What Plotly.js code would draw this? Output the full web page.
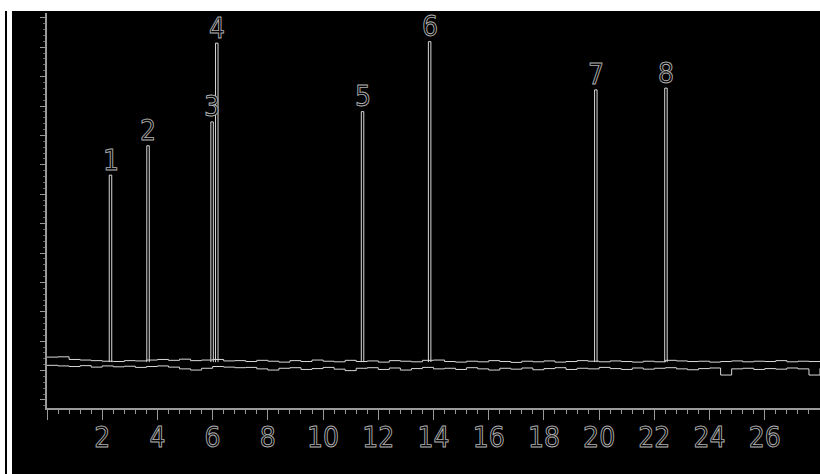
<!DOCTYPE html>
<html>
<head>
<meta charset="utf-8">
<script src="https://cdn.plot.ly/plotly-3.0.1.min.js"></script>
<style>
  html, body { margin: 0; padding: 0; background: #fff; width: 820px; height: 474px; overflow: hidden; }
  #edge { position: absolute; left: 5px; top: 11px; width: 2px; height: 463px; background: #000; }
  #chart { position: absolute; left: 12px; top: 11px; width: 808px; height: 463px; background: #000; }
  #chart .xtick text, #chart .annotation-text {
    fill: #000 !important; stroke: #b0b0b0 !important; stroke-width: 0.9px !important;
  }
</style>
</head>
<body>
<div id="edge"></div>
<div id="chart"></div>
<script>
// Retention time (min) sample points of the detector baseline
const times = [
  0.0, 0.4, 0.8, 1.2, 1.6, 2.0, 2.4, 2.8, 3.2, 3.6,
  4.0, 4.4, 4.8, 5.2, 5.6, 6.0, 6.4, 6.8, 7.2, 7.6,
  8.0, 8.4, 8.8, 9.2, 9.6, 10.0, 10.4, 10.8, 11.2, 11.6,
  12.0, 12.4, 12.8, 13.2, 13.6, 14.0, 14.4, 14.8, 15.2, 15.6,
  16.0, 16.4, 16.8, 17.2, 17.6, 18.0, 18.4, 18.8, 19.2, 19.6,
  20.0, 20.4, 20.8, 21.2, 21.6, 22.0, 22.4, 22.8, 23.2, 23.6,
  24.0, 24.4, 24.8, 25.2, 25.6, 26.0, 26.4, 26.8, 27.2, 27.6,
  28.0
];
// Upper and lower edges of the noisy baseline
const baselineUpper = [
  0.20, 0.21, 0.12, 0.10, 0.08, 0.06, 0.05, 0.08, 0.07, 0.10,
  0.12, 0.09, 0.13, 0.08, 0.10, 0.12, 0.07, 0.08, 0.05, 0.09,
  0.06, 0.03, 0.08, 0.05, 0.10, 0.06, 0.04, 0.09, 0.05, 0.07,
  0.03, 0.08, 0.06, 0.04, 0.09, 0.10, 0.05, 0.03, 0.06, 0.04,
  0.08, 0.05, 0.02, 0.06, 0.04, 0.07, 0.03, 0.05, 0.08, 0.06,
  0.04, 0.07, 0.05, 0.03, 0.06, 0.04, 0.09, 0.07, 0.05, 0.06,
  0.03, 0.05, 0.07, 0.04, 0.06, 0.05, 0.08, 0.04, 0.06, 0.05,
  0.07
];
const baselineLower = [
  -0.08, -0.10, -0.12, -0.09, -0.14, -0.10, -0.13, -0.11, -0.15, -0.12,
  -0.10, -0.14, -0.20, -0.24, -0.18, -0.12, -0.14, -0.16, -0.15, -0.20,
  -0.24, -0.18, -0.16, -0.22, -0.19, -0.15, -0.21, -0.26, -0.18, -0.16,
  -0.22, -0.17, -0.24, -0.19, -0.15, -0.20, -0.18, -0.22, -0.16, -0.20,
  -0.24, -0.18, -0.21, -0.17, -0.23, -0.19, -0.16, -0.22, -0.18, -0.20,
  -0.15, -0.19, -0.22, -0.17, -0.21, -0.18, -0.16, -0.20, -0.23, -0.19,
  -0.17, -0.41, -0.20, -0.18, -0.22, -0.19, -0.21, -0.17, -0.20, -0.41,
  -0.18
];
// Peaks
const peakTimes   = [2.30, 3.66, 5.98, 6.15, 11.43, 13.86, 19.88, 22.42];
const peakHeights = [6.39, 7.39, 8.20, 10.88, 8.55, 10.93, 9.29, 9.35];
const peakLabels  = ['1', '2', '3', '4', '5', '6', '7', '8'];
// Axis ticks
const xTickVals  = [0, 2, 4, 6, 8, 10, 12, 14, 16, 18, 20, 22, 24, 26, 28];
const xTickText  = ['', '2', '4', '6', '8', '10', '12', '14', '16', '18', '20', '22', '24', '26', ''];

const halfWidth = 0.045;
const px = [], py = [];
peakTimes.forEach((t, i) => {
  px.push(t - halfWidth, t - halfWidth, t + halfWidth, t + halfWidth, null);
  py.push(0.03, peakHeights[i], peakHeights[i], 0.03, null);
});

const lineStyle = { color: '#d8d8d8', width: 1 };
const traces = [
  { x: times, y: baselineUpper, mode: 'lines', line: Object.assign({ shape: 'hv' }, lineStyle), hoverinfo: 'skip' },
  { x: times, y: baselineLower, mode: 'lines', line: Object.assign({ shape: 'hv' }, lineStyle), hoverinfo: 'skip' },
  { x: px, y: py, mode: 'lines', line: lineStyle, hoverinfo: 'skip', connectgaps: false }
];

const labelFont = { family: 'DejaVu Sans Condensed, Liberation Sans Narrow, sans-serif', size: 28, color: '#b0b0b0' };
const annotations = peakLabels.map((lab, i) => ({
  x: peakTimes[i], y: peakHeights[i], xref: 'x', yref: 'y',
  text: lab, showarrow: false, yanchor: 'middle', yshift: 15, font: labelFont
}));

const axisColor = '#9a9a9a';
const layout = {
  width: 808, height: 463,
  margin: { l: 35, r: 0, t: 2, b: 66 },
  paper_bgcolor: '#000', plot_bgcolor: '#000',
  showlegend: false,
  xaxis: {
    range: [0, 28], showgrid: false, zeroline: false,
    showline: true, linecolor: axisColor, linewidth: 2,
    tickmode: 'array', tickvals: xTickVals, ticktext: xTickText,
    ticks: 'outside', ticklen: 10, tickcolor: axisColor, tickwidth: 1,
    ticklabelstandoff: -7,
    minor: { tickmode: 'linear', tick0: 0, dtick: 0.4, ticks: 'outside', ticklen: 4, tickcolor: axisColor, tickwidth: 1 },
    tickfont: labelFont
  },
  yaxis: {
    range: [-1.531, 11.905], showgrid: false, zeroline: false,
    showline: true, linecolor: axisColor, linewidth: 2,
    tickmode: 'linear', tick0: -1.2585, dtick: 1,
    ticks: 'outside', ticklen: 5, tickcolor: axisColor, tickwidth: 1,
    minor: { tickmode: 'linear', tick0: -1.2585, dtick: 0.2, ticks: 'outside', ticklen: 2, tickcolor: '#666', tickwidth: 1 },
    showticklabels: false
  },
  annotations: annotations
};

Plotly.newPlot('chart', traces, layout, { staticPlot: true, displayModeBar: false });
</script>
</body>
</html>
